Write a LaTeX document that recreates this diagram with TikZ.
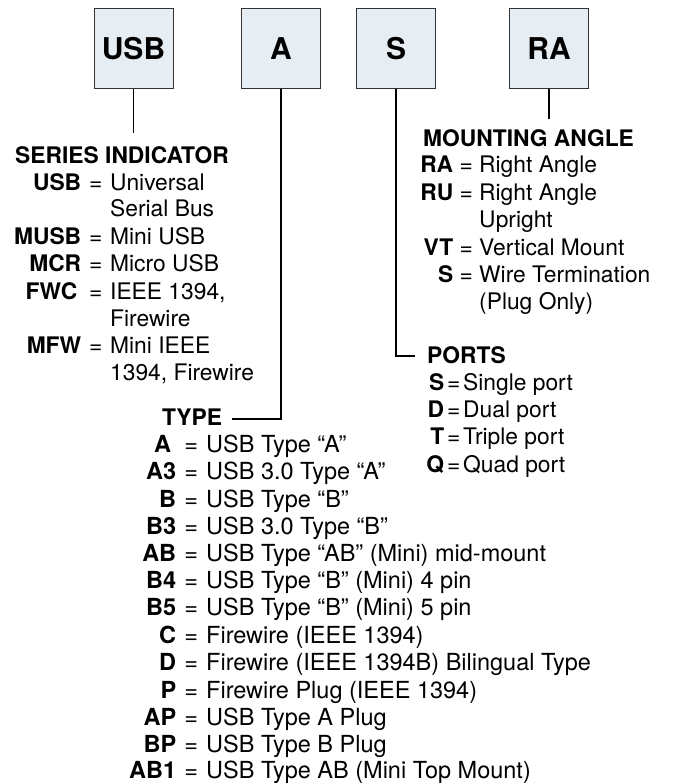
\documentclass[tikz,border=0pt]{standalone}
\usepackage{fontspec}
\setmainfont{TeX Gyre Heros}
\definecolor{boxfill}{HTML}{E6EEF4}
\newcommand{\legrow}[4]{\makebox[#1][r]{\bfseries #2}\makebox[#3]{=}#4}

\begin{document}
\begin{tikzpicture}[x=1pt,y=-1pt,
  pbox/.style={draw=black!80,fill=boxfill,line width=1pt,minimum width=79pt,minimum height=80pt,inner sep=0pt,font=\fontsize{30}{32}\selectfont\bfseries},
  txt/.style={anchor=base west,inner sep=0pt,font=\fontsize{22.8}{27}\selectfont},
  head/.style={txt,font=\fontsize{22.8}{27}\selectfont\bfseries},
  ttxt/.style={txt,font=\fontsize{23.5}{27}\selectfont},
  link/.style={line width=1.5pt}]
\useasboundingbox (0,0) rectangle (686,783);

\node[pbox] (usb) at (133.5,49) {USB};
\node[pbox] (typ) at (281,49) {A};
\node[pbox] (prt) at (396,49) {S};
\node[pbox] (ang) at (549,49) {RA};

% series indicator
\node[head] (serh) at (15,164) {SERIES INDICATOR};
\node[txt] (ser1) at (15,191) {\legrow{66pt}{USB}{29pt}{Universal}};
\node[txt] (ser1b) at (110,217) {Serial Bus};
\node[txt] (ser2) at (15,244) {\legrow{66pt}{MUSB}{29pt}{Mini USB}};
\node[txt] (ser3) at (15,272) {\legrow{66pt}{MCR}{29pt}{Micro USB}};
\node[txt] (ser4) at (15,299) {\legrow{66pt}{FWC\hspace{4pt}}{29pt}{IEEE 1394,}};
\node[txt] (ser4b) at (110,326) {Firewire};
\node[txt] (ser5) at (15,353) {\legrow{66pt}{MFW}{29pt}{Mini IEEE}};
\node[txt] (ser5b) at (110,380) {1394, Firewire};

% mounting angle
\node[head] (angh) at (423,147) {MOUNTING ANGLE};
\node[txt] (ang1) at (423,173) {\legrow{30pt}{RA}{26pt}{Right Angle}};
\node[txt] (ang2) at (423,201) {\legrow{30pt}{RU}{26pt}{Right Angle}};
\node[txt] (ang2b) at (479,228) {Upright};
\node[txt] (ang3) at (423,255) {\legrow{30pt}{VT}{26pt}{Vertical Mount}};
\node[txt] (ang4) at (423,283) {\legrow{30pt}{S}{26pt}{Wire Termination}};
\node[txt] (ang4b) at (479,309) {(Plug Only)};

% ports
\node[head] (prth) at (427,363) {PORTS};
\node[txt] (prt1) at (427,390) {\legrow{17pt}{S}{19pt}{Single port}};
\node[txt] (prt2) at (427,417) {\legrow{17pt}{D}{19pt}{Dual port}};
\node[txt] (prt3) at (427,444) {\legrow{17pt}{T}{19pt}{Triple port}};
\node[txt] (prt4) at (427,472) {\legrow{17pt}{Q}{19pt}{Quad port}};

% type
\node[head] (typh) at (162,425) {TYPE};
\node[ttxt] (typ1) at (133,452) {\legrow{43pt}{A\hspace{5pt}}{30pt}{USB Type “A”}};
\node[ttxt] (typ2) at (133,479) {\legrow{43pt}{A3}{30pt}{USB 3.0 Type “A”}};
\node[ttxt] (typ3) at (133,507) {\legrow{43pt}{B}{30pt}{USB Type “B”}};
\node[ttxt] (typ4) at (133,534) {\legrow{43pt}{B3}{30pt}{USB 3.0 Type “B”}};
\node[ttxt] (typ5) at (133,561) {\legrow{43pt}{AB}{30pt}{USB Type “AB” (Mini) mid-mount}};
\node[ttxt] (typ6) at (133,588) {\legrow{43pt}{B4}{30pt}{USB Type “B” (Mini) 4 pin}};
\node[ttxt] (typ7) at (133,615) {\legrow{43pt}{B5}{30pt}{USB Type “B” (Mini) 5 pin}};
\node[ttxt] (typ8) at (133,643) {\legrow{43pt}{C}{30pt}{Firewire (IEEE 1394)}};
\node[ttxt] (typ9) at (133,670) {\legrow{43pt}{D}{30pt}{Firewire (IEEE 1394B) Bilingual Type}};
\node[ttxt] (typ10) at (133,698) {\legrow{43pt}{P}{30pt}{Firewire Plug (IEEE 1394)}};
\node[ttxt] (typ11) at (133,725) {\legrow{43pt}{AP}{30pt}{USB Type A Plug}};
\node[ttxt] (typ12) at (133,752) {\legrow{43pt}{BP}{30pt}{USB Type B Plug}};
\node[ttxt] (typ13) at (133,778) {\legrow{43pt}{AB1}{30pt}{USB Type AB (Mini Top Mount)}};

\coordinate (serend) at (133.5,133);
\coordinate (typend) at (232,419);
\coordinate (prtend) at (415,356);
\coordinate (angend) at (549,119);
\draw[link] (usb.south) -- (serend);
\draw[link] (typ.south) |- (typend);
\draw[link] (prt.south) |- (prtend);
\draw[link] (ang.south) -- (angend);

\end{tikzpicture}
\end{document}
